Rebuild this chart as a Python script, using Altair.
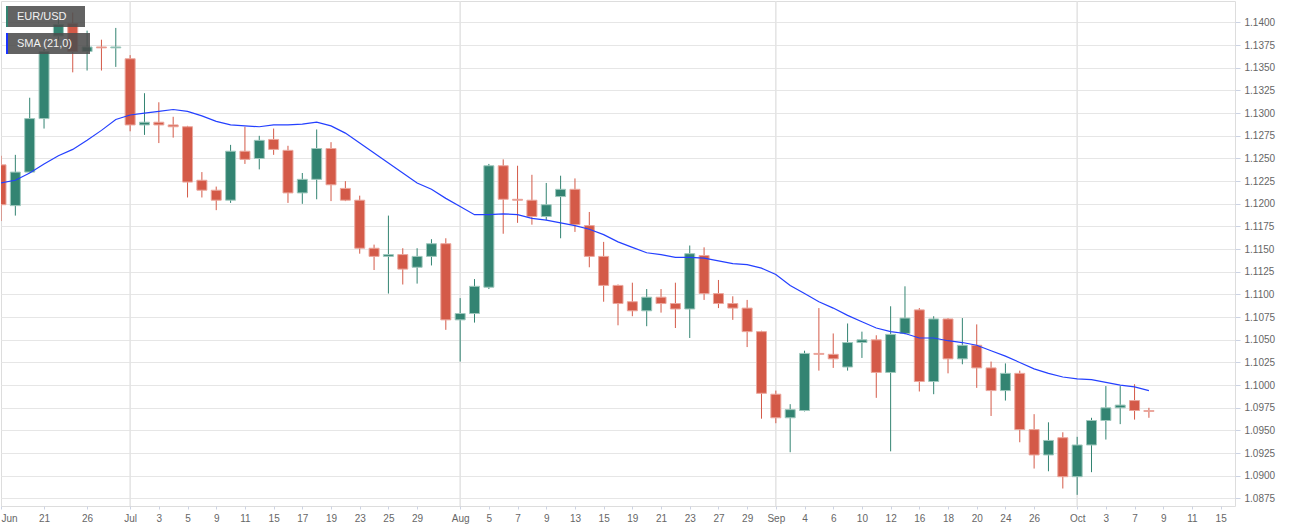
import altair as alt
import pandas as pd

# trading-day index (0 = Jun 18, 2019)
idx = list(range(81))
opens = [1.1243, 1.1198, 1.1235, 1.1294, 1.1385, 1.1399, 1.1368, 1.1373, 1.1372, 1.1360,
         1.1287, 1.1290, 1.1287, 1.1285, 1.1226, 1.1215, 1.1204, 1.1258, 1.1250, 1.1271,
         1.1259, 1.1212, 1.1227, 1.1261, 1.1217, 1.1204, 1.1151, 1.1142, 1.1144, 1.1130,
         1.1142, 1.1156, 1.1072, 1.1079, 1.1108, 1.1242, 1.1205, 1.1204, 1.1186, 1.1208,
         1.1216, 1.1176, 1.1142, 1.1110, 1.1092, 1.1082, 1.1097, 1.1090, 1.1084, 1.1143,
         1.1101, 1.1090, 1.1085, 1.1059, 1.0990, 1.0964, 1.0972, 1.1035, 1.1034, 1.1020,
         1.1047, 1.1050, 1.1014, 1.1057, 1.1083, 1.1004, 1.1073, 1.1029, 1.1044, 1.1019,
         1.0994, 1.1013, 1.0951, 1.0923, 1.0942, 1.0899, 1.0934, 1.0961, 1.0975, 1.0983,
         1.0972]
highs = [1.1253, 1.1254, 1.1317, 1.1371, 1.1404, 1.1411, 1.1391, 1.1381, 1.1394, 1.1364,
         1.1322, 1.1312, 1.1296, 1.1286, 1.1235, 1.1219, 1.1265, 1.1285, 1.1275, 1.1283,
         1.1264, 1.1234, 1.1282, 1.1268, 1.1225, 1.1209, 1.1155, 1.1187, 1.1151, 1.1151,
         1.1161, 1.1162, 1.1096, 1.1117, 1.1244, 1.1249, 1.1242, 1.1232, 1.1223, 1.1231,
         1.1228, 1.1191, 1.1158, 1.1111, 1.1113, 1.1106, 1.1106, 1.1113, 1.1154, 1.1152,
         1.1116, 1.1098, 1.1094, 1.1060, 1.0994, 1.0979, 1.1038, 1.1085, 1.1057, 1.1068,
         1.1059, 1.1055, 1.1087, 1.1109, 1.1085, 1.1076, 1.1074, 1.1074, 1.1067, 1.1026,
         1.1024, 1.1016, 1.0968, 1.0959, 1.0948, 1.0943, 1.0964, 1.0999, 1.0999, 1.1001,
         1.0975]
lows = [1.1181, 1.1187, 1.1234, 1.1283, 1.1380, 1.1345, 1.1347, 1.1347, 1.1351, 1.1280,
        1.1276, 1.1267, 1.1273, 1.1207, 1.1207, 1.1193, 1.1201, 1.1244, 1.1238, 1.1254,
        1.1201, 1.1200, 1.1205, 1.1203, 1.1203, 1.1145, 1.1127, 1.1101, 1.1111, 1.1112,
        1.1132, 1.1061, 1.1026, 1.1069, 1.1106, 1.1167, 1.1179, 1.1177, 1.1182, 1.1162,
        1.1169, 1.1130, 1.1092, 1.1066, 1.1076, 1.1065, 1.1080, 1.1063, 1.1052, 1.1094,
        1.1085, 1.1072, 1.1042, 1.0963, 1.0958, 1.0926, 1.0971, 1.1016, 1.1019, 1.1016,
        1.1030, 1.0986, 1.0927, 1.1056, 1.0993, 1.0990, 1.1013, 1.1023, 1.0997, 1.0966,
        1.0983, 1.0937, 1.0908, 1.0905, 1.0886, 1.0879, 1.0904, 1.0940, 1.0957, 1.0962,
        1.0964]
closes = [1.1199, 1.1235, 1.1294, 1.1368, 1.1398, 1.1368, 1.1373, 1.1372, 1.1373, 1.1287,
          1.1290, 1.1287, 1.1285, 1.1224, 1.1215, 1.1204, 1.1258, 1.1249, 1.1270, 1.1260,
          1.1212, 1.1227, 1.1261, 1.1221, 1.1204, 1.1151, 1.1142, 1.1144, 1.1128, 1.1142,
          1.1156, 1.1072, 1.1079, 1.1109, 1.1242, 1.1205, 1.1204, 1.1186, 1.1199, 1.1216,
          1.1177, 1.1142, 1.1110, 1.1090, 1.1082, 1.1097, 1.1090, 1.1084, 1.1145, 1.1101,
          1.1090, 1.1085, 1.1059, 1.0991, 1.0964, 1.0973, 1.1035, 1.1034, 1.1029, 1.1047,
          1.1050, 1.1014, 1.1056, 1.1074, 1.1004, 1.1073, 1.1029, 1.1044, 1.1019, 1.0994,
          1.1013, 1.0951, 1.0923, 1.0939, 1.0899, 1.0934, 1.0961, 1.0975, 1.0978, 1.0972,
          1.0971]
sma = [1.1223, 1.1226, 1.1234, 1.1244, 1.1253, 1.1260, 1.1270, 1.1281, 1.1293, 1.1298,
       1.1300, 1.1302, 1.1304, 1.1302, 1.1297, 1.1291, 1.1287, 1.1286, 1.1285, 1.1287,
       1.1287, 1.1288, 1.1290, 1.1286, 1.1278, 1.1267, 1.1256, 1.1245, 1.1234, 1.1223,
       1.1216, 1.1206, 1.1197, 1.1188, 1.1188, 1.1189, 1.1188, 1.1184, 1.1182, 1.1179,
       1.1176, 1.1172, 1.1166, 1.1158, 1.1152, 1.1146, 1.1144, 1.1141, 1.1141, 1.1140,
       1.1137, 1.1134, 1.1133, 1.1129, 1.1122, 1.1110, 1.1101, 1.1092, 1.1085, 1.1077,
       1.1070, 1.1063, 1.1059, 1.1057, 1.1052, 1.1052, 1.1049, 1.1047, 1.1044, 1.1038,
       1.1032, 1.1025, 1.1018, 1.1013, 1.1009, 1.1007, 1.1006, 1.1003, 1.1000, 1.0998,
       1.0994]

# x-axis tick positions (trading-day index) and their labels
x_ticks = [0, 3, 6, 9, 11, 13, 15, 17, 19, 21, 23, 25, 27, 29, 32, 34, 36, 38, 40, 42,
           44, 46, 48, 50, 52, 54, 56, 58, 60, 62, 64, 66, 68, 70, 72, 75, 77, 79, 81, 83, 85]
x_labels = ["Jun", "21", "26", "Jul", "3", "5", "9", "11", "15", "17", "19", "23", "25", "29",
            "Aug", "5", "7", "9", "13", "15", "19", "21", "23", "27", "29",
            "Sep", "4", "6", "10", "12", "16", "18", "20", "24", "26",
            "Oct", "3", "7", "9", "11", "15"]
month_starts = [9, 32, 54, 75]
y_ticks = [1.0875, 1.0900, 1.0925, 1.0950, 1.0975, 1.1000, 1.1025, 1.1050, 1.1075, 1.1100,
           1.1125, 1.1150, 1.1175, 1.1200, 1.1225, 1.1250, 1.1275, 1.1300, 1.1325, 1.1350,
           1.1375, 1.1400]

df = pd.DataFrame({"idx": idx, "open": opens, "high": highs, "low": lows,
                   "close": closes, "sma": sma})
df["dir"] = ["up" if c >= o else "down" for o, c in zip(opens, closes)]

GREEN = "#338472"
RED = "#d45a48"
BORDER = "#ccd3e3"
LABEL = "#666666"

label_expr = ("[" + ",".join("'%s'" % l for l in x_labels) + "][indexof(["
              + ",".join(str(t) for t in x_ticks) + "], datum.value)]")

x_axis = alt.Axis(values=x_ticks, labelExpr=label_expr, grid=False, domain=False,
                  tickColor=BORDER, tickSize=3, labelColor=LABEL, labelFontSize=10,
                  labelPadding=4, title=None, labelFlush=True, labelOverlap=False)
y_axis = alt.Axis(values=y_ticks, format=".4f", orient="right", grid=True,
                  gridColor="#e6e6e6", domain=False, tickSize=5, tickColor=BORDER,
                  labelPadding=4, labelFontSize=10, labelColor=LABEL, title=None)

x_scale = alt.Scale(domain=[0, 86], nice=False, zero=False, padding=0)
y_scale = alt.Scale(domain=[1.08667, 1.14237], nice=False, zero=False, padding=0)

X = alt.X("idx:Q", scale=x_scale, axis=x_axis)
dir_scale = alt.Scale(domain=["up", "down"], range=[GREEN, RED])
edge_scale = alt.Scale(domain=["up", "down"], range=["#9fc8bd", "#eba79d"])

base = alt.Chart(df)

months = alt.Chart(pd.DataFrame({"idx": month_starts})).mark_rule(
    color="#e3e3e3", strokeWidth=1.5).encode(x=X)

wicks = base.mark_rule(strokeWidth=1, clip=True).encode(
    x=X,
    y=alt.Y("low:Q", scale=y_scale, axis=y_axis),
    y2="high:Q",
    color=alt.Color("dir:N", scale=dir_scale, legend=None),
)

bodies = base.mark_bar(size=10, strokeWidth=1, clip=True).encode(
    x=X,
    y=alt.Y("open:Q", scale=y_scale, axis=y_axis),
    y2="close:Q",
    fill=alt.Fill("dir:N", scale=dir_scale, legend=None),
    stroke=alt.Stroke("dir:N", scale=edge_scale, legend=None),
)

sma_line = base.mark_line(color="#2440ff", strokeWidth=1.2, clip=True).encode(
    x=X, y=alt.Y("sma:Q", scale=y_scale, axis=y_axis))

legend_df1 = pd.DataFrame({"t": ["EUR/USD"]})
legend_df2 = pd.DataFrame({"t": ["SMA (21,0)"]})

box1 = alt.Chart(legend_df1).mark_rect(fill="#4d4d4d", opacity=0.88).encode(
    x=alt.value(5), x2=alt.value(84), y=alt.value(5), y2=alt.value(26))
strip1 = alt.Chart(legend_df1).mark_rect(fill=GREEN).encode(
    x=alt.value(5), x2=alt.value(7), y=alt.value(5), y2=alt.value(26))
text1 = alt.Chart(legend_df1).mark_text(align="left", baseline="middle", color="#f2f2f2",
                                        fontSize=11).encode(
    x=alt.value(16), y=alt.value(16), text="t:N")

box2 = alt.Chart(legend_df2).mark_rect(fill="#4d4d4d", opacity=0.88).encode(
    x=alt.value(5), x2=alt.value(89), y=alt.value(32), y2=alt.value(53))
strip2 = alt.Chart(legend_df2).mark_rect(fill="#1a33ff").encode(
    x=alt.value(5), x2=alt.value(7), y=alt.value(32), y2=alt.value(53))
text2 = alt.Chart(legend_df2).mark_text(align="left", baseline="middle", color="#f2f2f2",
                                        fontSize=11).encode(
    x=alt.value(16), y=alt.value(43), text="t:N")

chart = alt.layer(
    months, wicks, bodies, sma_line, box1, strip1, text1, box2, strip2, text2
).resolve_scale(color="independent").properties(
    width=1234, height=505,
    padding={"left": 0, "top": 0, "right": 5, "bottom": 5},
).configure_view(
    fill="#f7f7f7", stroke=BORDER
).configure(
    font="Liberation Sans", background="white"
)

chart.save("out.html", embed_options={"renderer": "svg", "actions": False})
